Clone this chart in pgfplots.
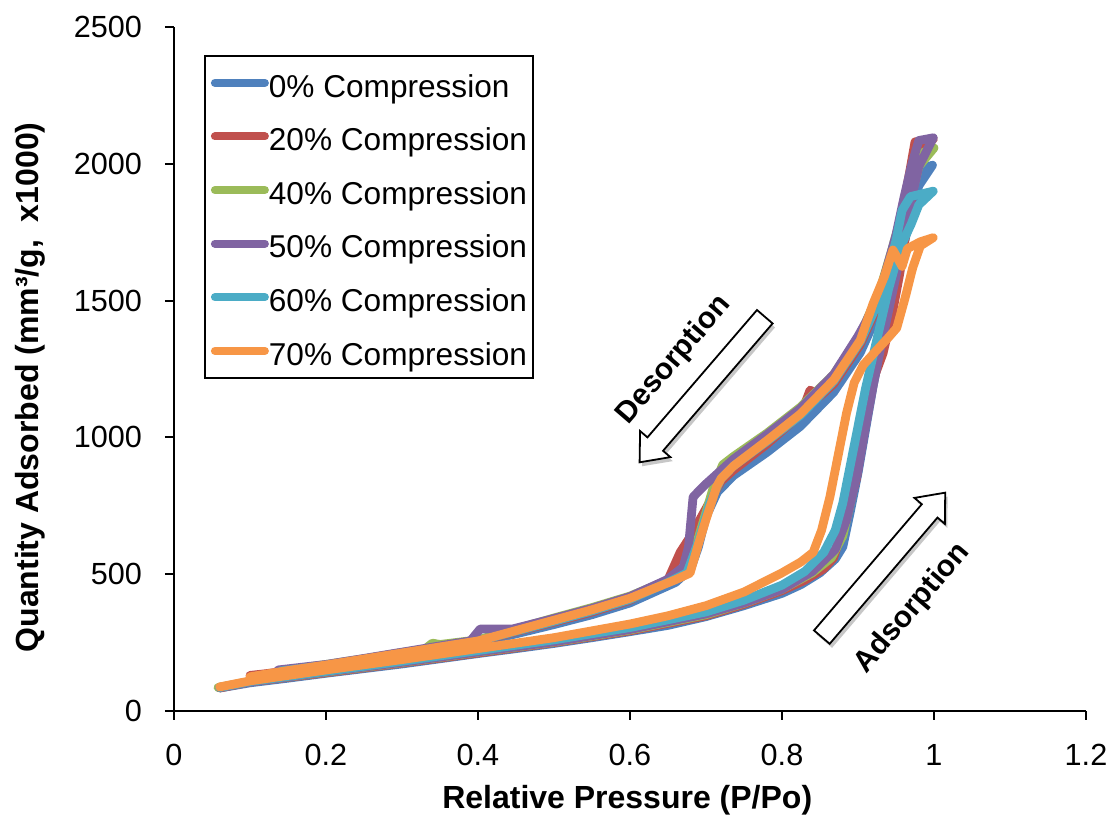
\documentclass[border=0pt]{standalone}
\usepackage{fontspec}
\setmainfont{Liberation Sans}
\usepackage{pgfplots}
\pgfplotsset{compat=1.18}

\definecolor{cA}{HTML}{4F81BD}
\definecolor{cB}{HTML}{C0504D}
\definecolor{cC}{HTML}{9BBB59}
\definecolor{cD}{HTML}{8064A2}
\definecolor{cE}{HTML}{4BACC6}
\definecolor{cF}{HTML}{F79646}

\begin{document}
\begin{tikzpicture}
\begin{axis}[
  scale only axis,
  width=456pt, height=342pt,
  xmin=0, xmax=1.2, ymin=0, ymax=2500,
  axis lines=left,
  axis line style={-, line width=1pt, black},
  xtick={0,0.2,...,1.2}, ytick={0,500,...,2500},
  tick align=outside,
  major tick length=4.5pt,
  tick style={line width=1pt, black},
  minor tick num=0,
  /pgf/number format/assume math mode=true,
  /pgf/number format/set thousands separator={},
  tick label style={font=\fontsize{15.3}{18}\selectfont},
  xticklabel style={yshift=-8.5pt},
  yticklabel style={xshift=-8pt},
  xlabel={\bfseries Relative Pressure (P/Po)},
  ylabel={\bfseries Quantity Adsorbed (mm³/g,\ \ x1000)},
  label style={font=\fontsize{16}{19}\selectfont},
  xlabel style={at={(axis description cs:0.497,-0.130)}, anchor=center},
  ylabel style={at={(axis description cs:-0.158,0.473)}, anchor=center},
  every axis plot/.append style={line width=4.4pt, line join=round, line cap=round},
  legend image code/.code={\draw[#1, line width=4pt] (2pt,0pt) -- (27pt,0pt);},
  legend cell align=left,
  legend style={
    at={(rel axis cs:0.0329,0.959)}, anchor=north west,
    draw=black, line width=0.9pt, fill=white,
    inner xsep=3pt, inner ysep=6pt,
    row sep=11.9pt,
    nodes={inner sep=0pt, text height=14.6pt, text depth=0.3pt},
    font=\fontsize{15.8}{19}\selectfont,
  },
]
% 0% compression: adsorption branch, then desorption branch
\addplot[cA] coordinates {
(0.06,84)(0.1,103)(0.15,120)(0.2,138)(0.25,155)(0.3,172)(0.35,191)(0.4,210)(0.45,228)(0.5,247)(0.55,268)(0.6,290)(0.65,313)(0.7,345)(0.75,385)(0.8,430)(0.825,462)(0.85,505)(0.87,555)(0.88,600)(0.89,730)(0.9,870)(0.91,1030)(0.92,1190)(0.93,1330)(0.94,1460)(0.95,1580)(0.96,1700)(0.97,1820)(0.98,1920)(0.998,1995)
(0.985,1980)(0.975,1900)(0.965,1800)(0.955,1700)(0.945,1610)(0.929,1470)(0.903,1310)(0.868,1165)(0.824,1040)(0.78,945)(0.736,860)(0.715,800)(0.70,710)(0.69,600)(0.68,520)(0.66,470)(0.6,395)(0.55,352)(0.5,316)(0.45,282)(0.4,248)(0.35,225)(0.3,203)(0.25,182)(0.2,162)(0.14,140)
};
\addlegendentry{0\% Compression}
% 20% compression
\addplot[cB] coordinates {
(0.06,84)(0.1,106)(0.2,140)(0.3,175)(0.4,212)(0.5,250)(0.6,293)(0.7,348)(0.75,390)(0.8,440)(0.83,478)(0.855,520)(0.868,560)(0.885,720)(0.898,850)(0.911,1089)(0.92,1210)(0.933,1308)(0.945,1450)(0.955,1600)(0.965,1780)(0.975,1950)(0.985,2060)(0.999,2090)
(0.975,2080)(0.968,1970)(0.96,1850)(0.95,1720)(0.94,1620)(0.929,1500)(0.903,1340)(0.868,1195)(0.85,1150)(0.837,1173)(0.825,1085)(0.78,975)(0.736,880)(0.72,840)(0.7,740)(0.68,640)(0.666,580)(0.65,480)(0.6,405)(0.55,362)(0.5,325)(0.45,290)(0.4,253)(0.35,230)(0.3,208)(0.25,186)(0.2,166)(0.15,147)(0.12,136)(0.1,130)
};
\addlegendentry{20\% Compression}
% 40% compression
\addplot[cC] coordinates {
(0.058,86)(0.1,107)(0.2,142)(0.3,177)(0.4,215)(0.5,252)(0.6,296)(0.7,352)(0.75,394)(0.8,445)(0.84,505)(0.865,560)(0.88,640)(0.89,760)(0.9,900)(0.91,1050)(0.92,1200)(0.93,1340)(0.94,1470)(0.95,1600)(0.96,1740)(0.97,1880)(0.98,1990)(1.0,2058)
(0.985,2040)(0.975,1990)(0.965,1900)(0.955,1790)(0.945,1690)(0.929,1540)(0.903,1375)(0.868,1230)(0.824,1110)(0.78,1015)(0.736,930)(0.722,900)(0.71,820)(0.695,680)(0.68,540)(0.66,490)(0.6,420)(0.55,378)(0.5,340)(0.45,300)(0.4,260)(0.35,243)(0.34,248)(0.33,226)(0.3,214)(0.25,191)(0.2,170)(0.14,147)
};
\addlegendentry{40\% Compression}
% 50% compression
\addplot[cD] coordinates {
(0.06,86)(0.1,106)(0.2,143)(0.3,178)(0.4,216)(0.5,253)(0.6,298)(0.7,355)(0.75,395)(0.8,445)(0.84,510)(0.87,590)(0.885,700)(0.9,880)(0.91,1040)(0.92,1190)(0.93,1330)(0.94,1460)(0.95,1590)(0.96,1730)(0.97,1870)(0.98,1990)(0.999,2095)
(0.98,2085)(0.97,1990)(0.96,1870)(0.95,1740)(0.94,1640)(0.929,1530)(0.91,1420)(0.9,1370)(0.868,1230)(0.824,1105)(0.78,1010)(0.736,920)(0.70,830)(0.692,808)(0.683,782)(0.677,600)(0.67,526)(0.648,479)(0.6,418)(0.55,375)(0.5,338)(0.446,300)(0.403,300)(0.39,256)(0.35,238)(0.3,215)(0.25,192)(0.2,170)(0.137,150)
};
\addlegendentry{50\% Compression}
% 60% compression
\addplot[cE] coordinates {
(0.06,86)(0.1,108)(0.2,145)(0.3,182)(0.4,221)(0.5,260)(0.6,305)(0.7,362)(0.75,405)(0.8,460)(0.83,510)(0.855,580)(0.87,660)(0.88,760)(0.89,900)(0.9,1040)(0.91,1180)(0.92,1300)(0.93,1420)(0.94,1540)(0.95,1640)(0.96,1720)(0.97,1780)(0.98,1850)(0.999,1900)
(0.969,1880)(0.958,1830)(0.95,1720)(0.94,1610)(0.929,1510)(0.903,1350)(0.868,1205)(0.824,1080)(0.78,985)(0.736,895)(0.72,850)(0.705,760)(0.69,620)(0.675,505)(0.65,470)(0.6,408)(0.55,366)(0.5,328)(0.45,292)(0.4,255)(0.35,233)(0.3,210)(0.25,188)(0.2,167)(0.14,146)
};
\addlegendentry{60\% Compression}
% 70% compression
\addplot[cF] coordinates {
(0.06,88)(0.1,110)(0.2,150)(0.3,188)(0.4,228)(0.5,268)(0.6,318)(0.65,348)(0.7,385)(0.75,435)(0.8,505)(0.825,545)(0.841,580)(0.852,660)(0.863,782)(0.875,950)(0.885,1090)(0.895,1200)(0.907,1265)(0.925,1320)(0.94,1365)(0.951,1400)(0.962,1510)(0.972,1620)(0.982,1700)(0.999,1730)
(0.982,1715)(0.965,1690)(0.958,1625)(0.946,1685)(0.935,1590)(0.92,1490)(0.903,1355)(0.868,1210)(0.824,1085)(0.78,988)(0.736,895)(0.72,850)(0.714,820)(0.70,700)(0.69,610)(0.679,504)(0.66,480)(0.6,412)(0.55,370)(0.5,332)(0.45,294)(0.4,256)(0.35,234)(0.3,212)(0.25,190)(0.2,168)(0.15,148)(0.1,125)
};
\addlegendentry{70\% Compression}

\coordinate (bl) at (rel axis cs:0,0);
\coordinate (desArrow) at (axis cs:0.695,1175);
\coordinate (desText) at (axis cs:0.658,1283);
\coordinate (adsArrow) at (axis cs:0.9336,534);
\coordinate (adsText) at (axis cs:0.972,375);
\end{axis}

% block arrows marking the direction of each branch
\begin{scope}[shift={(desArrow)}, xshift=1.2pt, yshift=-2pt, rotate=229.3]
  \fill[black, opacity=0.22] (-48pt,-5.15pt) -- (36pt,-5.15pt) -- (36pt,-10pt) -- (48pt,0pt) -- (36pt,10pt) -- (36pt,5.15pt) -- (-48pt,5.15pt) -- cycle;
\end{scope}
\begin{scope}[shift={(desArrow)}, rotate=229.3]
  \draw[line width=0.9pt, fill=white, line join=miter] (-48pt,-5.15pt) -- (36pt,-5.15pt) -- (36pt,-10pt) -- (48pt,0pt) -- (36pt,10pt) -- (36pt,5.15pt) -- (-48pt,5.15pt) -- cycle;
\end{scope}
\begin{scope}[shift={(adsArrow)}, xshift=1.2pt, yshift=-2pt, rotate=49.5]
  \fill[black, opacity=0.22] (-47.5pt,-5.15pt) -- (35.5pt,-5.15pt) -- (35.5pt,-10pt) -- (47.5pt,0pt) -- (35.5pt,10pt) -- (35.5pt,5.15pt) -- (-47.5pt,5.15pt) -- cycle;
\end{scope}
\begin{scope}[shift={(adsArrow)}, rotate=49.5]
  \draw[line width=0.9pt, fill=white, line join=miter] (-47.5pt,-5.15pt) -- (35.5pt,-5.15pt) -- (35.5pt,-10pt) -- (47.5pt,0pt) -- (35.5pt,10pt) -- (35.5pt,5.15pt) -- (-47.5pt,5.15pt) -- cycle;
\end{scope}
\node[rotate=49.3, font=\bfseries\fontsize{15}{18}\selectfont] at (desText) {Desorption};
\node[rotate=49.5, font=\bfseries\fontsize{15}{18}\selectfont] at (adsText) {Adsorption};

\pgfresetboundingbox
\path[use as bounding box] (bl) ++(-87pt,-53.5pt) rectangle ++(557pt,409pt);
\end{tikzpicture}
\end{document}
